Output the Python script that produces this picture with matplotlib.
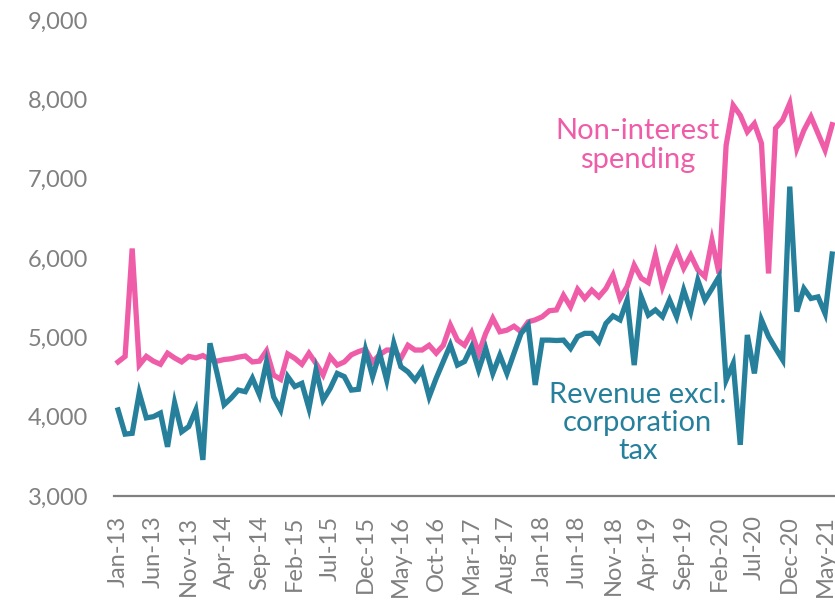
import matplotlib
matplotlib.use("Agg")
import matplotlib.pyplot as plt
import pandas as pd
from matplotlib.ticker import FuncFormatter

# monthly series, Jan-13 onwards
spending = [4690, 4760, 6120, 4650, 4760, 4700, 4660, 4800, 4740, 4690,
            4760, 4740, 4770, 4720, 4700, 4720, 4730, 4750, 4765, 4690,
            4700, 4830, 4525, 4470, 4790, 4735, 4660, 4800, 4670, 4525,
            4755, 4650, 4690, 4780, 4820, 4850, 4690, 4780, 4840, 4840,
            4735, 4900, 4840, 4840, 4900, 4800, 4900, 5155, 4965, 4900,
            5060, 4800, 5050, 5240, 5070, 5090, 5140, 5070, 5195, 5220,
            5260, 5335, 5345, 5530, 5385, 5605, 5490, 5595, 5510, 5615,
            5785, 5490, 5640, 5910, 5745, 5690, 6040, 5640, 5890, 6100,
            5870, 6035, 5850, 5765, 6225, 5805, 7420, 7925, 7800, 7590,
            7695, 7445, 5805, 7635, 7740, 7950, 7380, 7610, 7780, 7570,
            7360, 7680]

revenue = [4085, 3780, 3790, 4300, 3985, 4000, 4045, 3620, 4175, 3810,
           3875, 4085, 3455, 4925, 4550, 4150, 4235, 4335, 4315, 4485,
           4275, 4690, 4250, 4085, 4505, 4380, 4420, 4105, 4590, 4210,
           4355, 4545, 4505, 4335, 4345, 4840, 4505, 4800, 4460, 4925,
           4630, 4565, 4460, 4590, 4250, 4485, 4695, 4905, 4650, 4695,
           4880, 4590, 4860, 4545, 4775, 4545, 4800, 5050, 5155, 4400,
           4965, 4965, 4960, 4965, 4860, 5010, 5050, 5050, 4945, 5175,
           5270, 5220, 5470, 4650, 5510, 5280, 5345, 5260, 5470, 5260,
           5595, 5325, 5720, 5470, 5615, 5765, 4460, 4670, 3645, 5030,
           4545, 5220, 5010, 4860, 4715, 6900, 5325, 5615, 5490, 5510,
           5300, 6050]

months = pd.date_range("2013-01-01", periods=len(spending), freq="MS")
month_labels = [m.strftime("%b-%y") for m in months]
yticks = [3000, 4000, 5000, 6000, 7000, 8000, 9000]

PINK = "#EF5DA8"
TEAL = "#26809C"
GREY = "#808080"

fig = plt.figure(figsize=(8.35, 6.0), dpi=100)
ax = fig.add_axes([114.5 / 835, 104 / 600, 720.5 / 835, 476 / 600])

x = list(range(len(spending)))
ax.plot(x, spending, color=PINK, lw=3.8, solid_joinstyle="miter", clip_on=False)
ax.plot(x, revenue, color=TEAL, lw=3.8, solid_joinstyle="miter", clip_on=False)

ax.set_xlim(-0.5, 101.4)
ax.set_ylim(3000, 9000)
ax.set_yticks(yticks)
ax.yaxis.set_major_formatter(FuncFormatter(lambda v, p: f"{int(v):,}"))
ax.set_xticks(x[::5])
ax.set_xticklabels(month_labels[::5], rotation=90, va="top", ha="center")

for s in ["top", "right", "left"]:
    ax.spines[s].set_visible(False)
ax.spines["bottom"].set_color(GREY)
ax.spines["bottom"].set_linewidth(1.6)
ax.tick_params(axis="both", length=0, colors=GREY, labelsize=17)
ax.tick_params(axis="y", pad=19)
ax.tick_params(axis="x", pad=14)
for lab in ax.get_xticklabels() + ax.get_yticklabels():
    lab.set_family("Lato")

ax.text(73.5, 7420, "Non-interest\nspending", color=PINK, fontsize=21,
        family="Lato", ha="center", va="center", linespacing=1.15)
ax.text(73.5, 3920, "Revenue excl.\ncorporation\ntax", color=TEAL,
        fontsize=21, family="Lato", ha="center", va="center", linespacing=1.1)

fig.savefig("out.png", dpi=100)
